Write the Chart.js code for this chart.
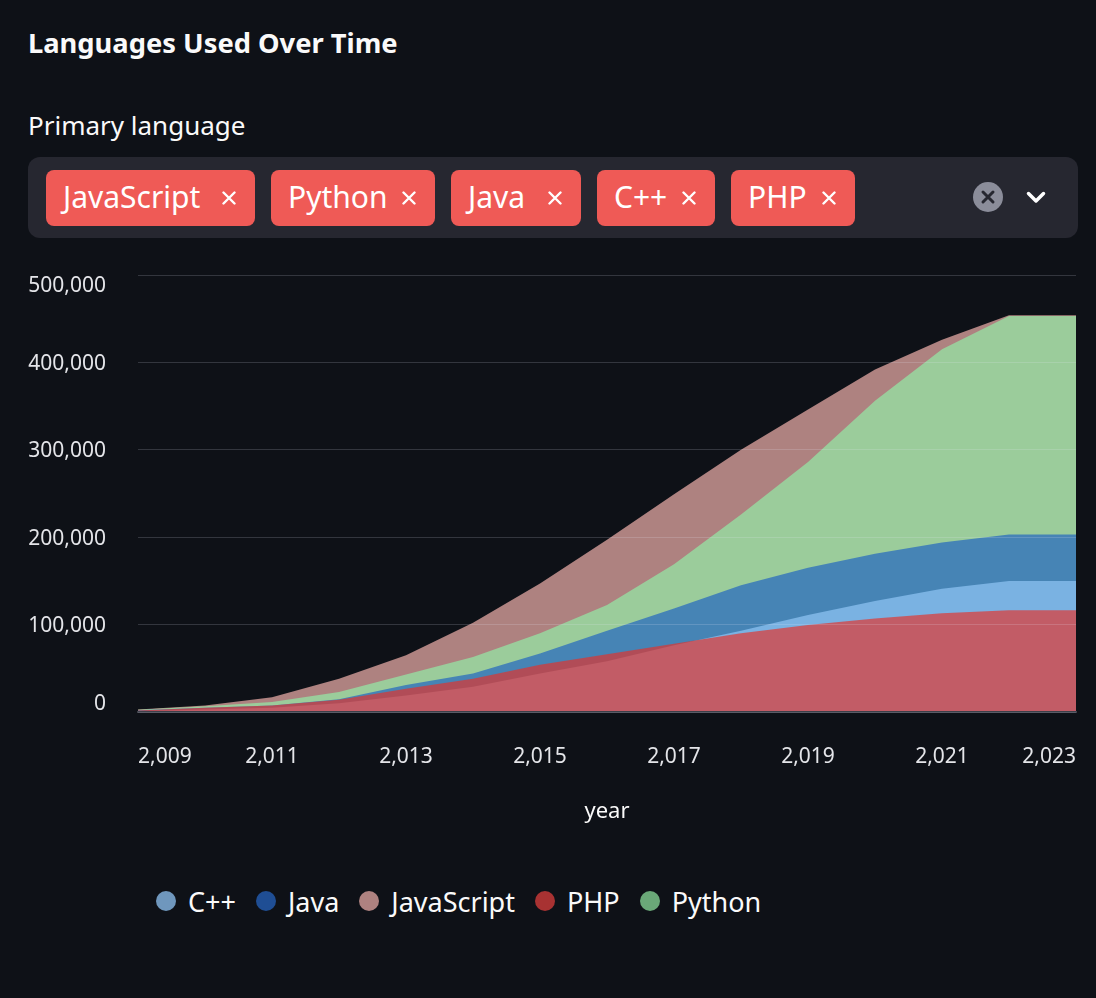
<!DOCTYPE html>
<html>
<head>
<meta charset="utf-8">
<script src="https://cdn.jsdelivr.net/npm/chart.js@4.4.1/dist/chart.umd.min.js"></script>
<style>
html,body{margin:0;padding:0;background:#0e1117;width:1096px;height:998px;overflow:hidden;font-family:'Noto Sans',sans-serif;color:#fafafa;}
#title{position:absolute;left:28px;top:29px;font-size:27.3px;font-weight:700;line-height:1;white-space:nowrap;}
#lbl{position:absolute;left:28px;top:112px;font-size:26px;line-height:1;white-space:nowrap;}
#box{position:absolute;left:28px;top:157px;width:1050px;height:81px;background:#262730;border-radius:12px;}
#tags{position:absolute;left:18px;top:13px;display:flex;gap:16px;}
.tag{position:relative;height:56px;background:#ef5a56;border-radius:8px;color:#fff;font-size:30px;line-height:1;display:flex;align-items:center;padding-left:17px;box-sizing:border-box;white-space:nowrap;}
.tag span{position:relative;top:-1px;}
.tag svg{position:absolute;right:19px;top:21px;}
#clear{position:absolute;left:945px;top:25px;}
#chev{position:absolute;left:998px;top:34px;}
#c{position:absolute;left:0;top:250px;}
#legend{position:absolute;left:156px;top:881px;height:40px;display:flex;align-items:center;gap:20px;font-size:27px;line-height:1;white-space:nowrap;}
.li{display:flex;align-items:center;}
.dot{width:20px;height:20px;border-radius:50%;margin-right:12px;}
</style>
</head>
<body>
<div id="title">Languages Used Over Time</div>
<div id="lbl">Primary language</div>
<div id="box">
  <div id="tags">
    <div class="tag" style="width:209px"><span>JavaScript</span><svg width="14" height="14" viewBox="0 0 14 14"><path d="M1.5 1.5L12.5 12.5M12.5 1.5L1.5 12.5" stroke="#fff" stroke-width="2.4" stroke-linecap="round"/></svg></div>
    <div class="tag" style="width:164px"><span>Python</span><svg width="14" height="14" viewBox="0 0 14 14"><path d="M1.5 1.5L12.5 12.5M12.5 1.5L1.5 12.5" stroke="#fff" stroke-width="2.4" stroke-linecap="round"/></svg></div>
    <div class="tag" style="width:130px"><span>Java</span><svg width="14" height="14" viewBox="0 0 14 14"><path d="M1.5 1.5L12.5 12.5M12.5 1.5L1.5 12.5" stroke="#fff" stroke-width="2.4" stroke-linecap="round"/></svg></div>
    <div class="tag" style="width:118px"><span>C++</span><svg width="14" height="14" viewBox="0 0 14 14"><path d="M1.5 1.5L12.5 12.5M12.5 1.5L1.5 12.5" stroke="#fff" stroke-width="2.4" stroke-linecap="round"/></svg></div>
    <div class="tag" style="width:124px"><span>PHP</span><svg width="14" height="14" viewBox="0 0 14 14"><path d="M1.5 1.5L12.5 12.5M12.5 1.5L1.5 12.5" stroke="#fff" stroke-width="2.4" stroke-linecap="round"/></svg></div>
  </div>
  <svg id="clear" width="30" height="30" viewBox="0 0 30 30"><circle cx="15" cy="15" r="15" fill="#8b8d9a"/><path d="M10 10L20 20M20 10L10 20" stroke="#262730" stroke-width="3" stroke-linecap="round"/></svg>
  <svg id="chev" width="20" height="13" viewBox="0 0 20 13"><path d="M2.5 2.5L10 10L17.5 2.5" stroke="#fff" stroke-width="3.5" fill="none" stroke-linecap="round" stroke-linejoin="round"/></svg>
</div>
<canvas id="c" width="1096" height="630"></canvas>
<div id="legend"></div>
<script>
// ---- data ----
const years      = [2009, 2010, 2011, 2012, 2013, 2014, 2015, 2016, 2017, 2018, 2019, 2020, 2021, 2022, 2023];
const cpp        = [1000, 3000, 5000, 10000, 19000, 29000, 44000, 58000, 76500, 93000, 111000, 127000, 141000, 150000, 150000];
const java       = [2000, 5000, 7500, 14500, 31000, 44000, 67000, 93000, 118500, 145000, 165000, 181000, 194000, 203000, 203000];
const javascript = [3000, 7500, 17000, 38000, 65000, 102000, 147000, 197000, 249000, 300000, 346000, 392000, 426000, 454000, 454000];
const php        = [1800, 5000, 7500, 14000, 26500, 38000, 54000, 66000, 78000, 90000, 99500, 107000, 113000, 116500, 116500];
const python     = [2500, 6500, 11500, 23000, 43000, 63000, 90000, 122500, 169000, 226000, 286000, 356000, 415000, 453000, 453000];
const languages  = ['C++', 'Java', 'JavaScript', 'PHP', 'Python'];
const yTickStep  = 100000;
const xTickStep  = 2;

// ---- styles ----
const AREA_COLOR   = {'C++':'#7ab2e2', 'Java':'#4684b5', 'JavaScript':'#ae8280', 'PHP':'rgba(229,49,41,0.67)', 'Python':'#9bcc9b'};
const LEGEND_COLOR = {'C++':'#6f97bd', 'Java':'#1f4e94', 'JavaScript':'#ae8280', 'PHP':'#a83232', 'Python':'#6aa878'};
const DRAW_ORDER   = {'PHP':0, 'C++':1, 'Java':2, 'Python':3, 'JavaScript':4};
const TICK_COLOR = '#e4e5e9';
const FONT = "'Noto Sans', sans-serif";

const valuesByLang = {'C++':cpp, 'Java':java, 'JavaScript':javascript, 'PHP':php, 'Python':python};

const datasets = languages.map(name => ({
  label: name,
  data: years.map((yr, i) => ({x: yr, y: valuesByLang[name][i]})),
  backgroundColor: AREA_COLOR[name],
  borderColor: 'rgba(0,0,0,0)',
  borderWidth: 0,
  pointRadius: 0,
  fill: 'origin',
  tension: 0,
  order: DRAW_ORDER[name]
}));

const fmt = new Intl.NumberFormat('en-US');

const axisText = {
  id: 'axisText',
  afterDraw(chart) {
    const ctx = chart.ctx;
    const xs = chart.scales.x, ys = chart.scales.y;
    ctx.save();
    ctx.fillStyle = TICK_COLOR;
    ctx.font = "21px " + FONT;
    ctx.textBaseline = 'alphabetic';
    const n = xs.ticks.length;
    xs.ticks.forEach((t, i) => {
      let x = xs.getPixelForValue(t.value), align = 'center';
      if (i === 0) { align = 'left'; x = xs.left; }
      else if (i === n - 1) { align = 'right'; x = xs.right; }
      ctx.textAlign = align;
      ctx.fillText(fmt.format(t.value), x, xs.top + 51);
    });
    ctx.textAlign = 'right';
    ys.ticks.forEach(t => {
      const py = ys.getPixelForValue(t.value);
      let base = py + 7.5;
      if (t.value === ys.max) base = py + 17;
      else if (t.value === ys.min) base = py - 2;
      ctx.fillText(fmt.format(t.value), ys.right - 32, base);
    });
    ctx.restore();
  }
};

Chart.defaults.font.family = FONT;

const chart = new Chart(document.getElementById('c'), {
  type: 'line',
  data: { datasets },
  options: {
    responsive: false,
    animation: false,
    devicePixelRatio: 1,
    layout: { padding: { top: 25, right: 20, bottom: 0, left: 0 } },
    plugins: { legend: { display: false }, tooltip: { enabled: false } },
    scales: {
      x: {
        type: 'linear', min: years[0], max: years[years.length - 1],
        ticks: { display: false, stepSize: xTickStep },
        grid: { display: false },
        border: { display: true, color: '#3d3f49', width: 2, z: 1 },
        title: { display: true, text: 'year', color: '#fafafa', font: { size: 22 }, padding: { top: 0, bottom: 55 } },
        afterFit(s) { s.height = 168; }
      },
      y: {
        min: 0, max: 500000,
        ticks: { display: false, stepSize: yTickStep },
        grid: { color: 'rgba(235,238,255,0.17)', drawTicks: false, z: 1 },
        border: { display: false },
        afterFit(s) { s.width = 138; }
      }
    }
  },
  plugins: [axisText]
});

// HTML legend from chart datasets (alphabetical)
const legendEl = document.getElementById('legend');
chart.data.datasets.map(d => d.label).sort().forEach(name => {
  const item = document.createElement('div');
  item.className = 'li';
  const dot = document.createElement('div');
  dot.className = 'dot';
  dot.style.background = LEGEND_COLOR[name];
  const txt = document.createElement('span');
  txt.textContent = name;
  item.appendChild(dot); item.appendChild(txt);
  legendEl.appendChild(item);
});
</script>
</body>
</html>
